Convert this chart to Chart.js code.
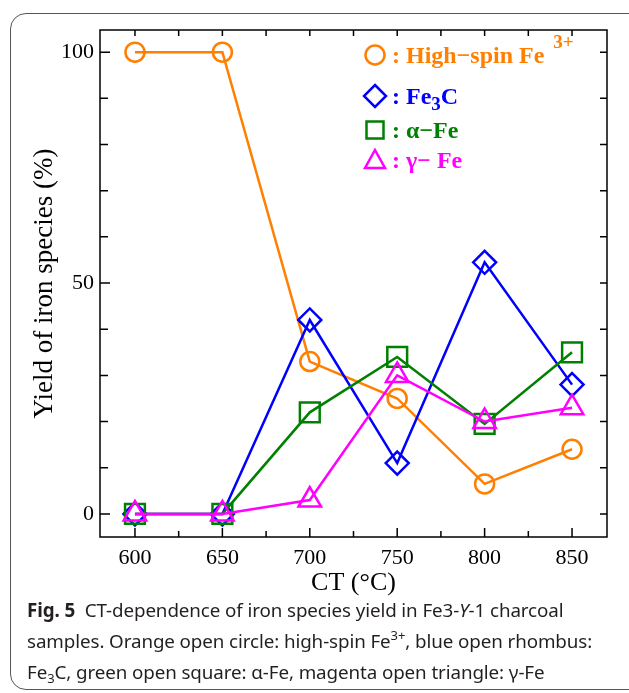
<!DOCTYPE html>
<html lang="en">
<head>
  <meta charset="UTF-8">
  <title>CT-dependence of iron species yield</title>
  <script src="https://cdn.jsdelivr.net/npm/chart.js"></script>
  <style>
    html, body { margin: 0; padding: 0; background: #fff; }
    body { width: 629px; height: 693px; position: relative; overflow: hidden; }
    .moldura {
      position: absolute; left: 10px; top: 13px; width: 660px; height: 677px;
      border: 1.5px solid #555; border-radius: 16px; box-sizing: border-box;
    }
    #grafico { position: absolute; left: 0; top: 0; }
    .legenda {
      position: absolute; left: 27px; top: 595px;
      font-family: "Noto Sans", sans-serif; font-size: 18.8px; line-height: 31px; color: #231f20;
      white-space: nowrap; letter-spacing: -0.1px;
    }
    .legenda sup, .legenda sub { font-size: 13px; line-height: 0; position: relative; vertical-align: baseline; }
    .legenda sup { top: -8px; }
    .legenda sub { top: 4px; }
  </style>
</head>
<body>
  <div class="moldura"></div>
  <canvas id="grafico" width="629" height="600"></canvas>
  <div class="legenda">
    <div><b>Fig. 5</b>&nbsp; CT-dependence of iron species yield in Fe3-<i>Y</i>-1 charcoal</div>
    <div>samples. Orange open circle: high-spin Fe<sup>3+</sup>, blue open rhombus:</div>
    <div>Fe<sub>3</sub>C, green open square: α-Fe, magenta open triangle: γ-Fe</div>
  </div>

  <script>
    // dados
    const temperaturas = [600, 650, 700, 750, 800, 850];
    const highSpinFe3 = [100, 100, 33, 25, 6.5, 14];
    const fe3c = [0, 0, 42, 11, 54.5, 28];
    const alphaFe = [0, 0, 22, 34, 19.5, 35];
    const gammaFe = [0, 0, 3, 30, 20, 23];
    const xTicks = [600, 650, 700, 750, 800, 850];
    const yTicks = [0, 50, 100];

    const fonteSerif = "'Liberation Serif', 'Times New Roman', serif";

    function pontos(valores) {
      return temperaturas.map((t, i) => ({ x: t, y: valores[i] }));
    }

    function serie(nome, valores, cor, estilo, raio, ordem) {
      return {
        label: nome,
        data: pontos(valores),
        borderColor: cor,
        borderWidth: 2.5,
        tension: 0,
        pointStyle: estilo,
        pointRadius: raio,
        pointBorderColor: cor,
        pointBorderWidth: 2.5,
        pointBackgroundColor: 'rgba(0,0,0,0)',
        order: ordem,
        clip: false
      };
    }

    // caixa, ticks para dentro e legenda desenhados aqui
    const molduraPlugin = {
      id: 'moldura',
      beforeDatasetsDraw(chart) {
        const { ctx, chartArea: a, scales } = chart;
        ctx.save();
        ctx.strokeStyle = '#000';
        ctx.lineWidth = 1.5;
        ctx.strokeRect(a.left, a.top, a.right - a.left, a.bottom - a.top);
        ctx.beginPath();
        for (let v = 600; v <= 850; v += 25) {
          const px = scales.x.getPixelForValue(v);
          const len = v % 50 === 0 ? 9 : 6;
          ctx.moveTo(px, a.bottom); ctx.lineTo(px, a.bottom - len);
          ctx.moveTo(px, a.top); ctx.lineTo(px, a.top + 6);
        }
        for (let v = 0; v <= 100; v += 10) {
          const py = scales.y.getPixelForValue(v);
          const len = v % 50 === 0 ? 10 : 8;
          ctx.moveTo(a.left, py); ctx.lineTo(a.left + len, py);
          ctx.moveTo(a.right, py); ctx.lineTo(a.right - 7, py);
        }
        ctx.stroke();
        ctx.restore();
      },
      afterDraw(chart) {
        const { ctx, chartArea: a } = chart;
        const mx = a.right - 232;
        const tx = mx + 17;
        ctx.save();
        ctx.lineWidth = 2.5;
        ctx.textBaseline = 'alphabetic';

        function escrever(x, y, partes, cor) {
          ctx.fillStyle = cor;
          partes.forEach(p => {
            ctx.font = p.f;
            ctx.fillText(p.t, x, y + (p.dy || 0));
            x += ctx.measureText(p.t).width + (p.gap || 0);
          });
        }
        const fb = 'bold 24px ' + fonteSerif;
        const fp = 'bold 19px ' + fonteSerif;

        // circulo
        let y = a.top + 25;
        ctx.strokeStyle = '#ff7f00';
        ctx.beginPath(); ctx.arc(mx, y, 9.5, 0, Math.PI * 2); ctx.stroke();
        escrever(tx, y + 8, [{ t: ': High\u2212spin Fe ', f: fb, gap: 3 }, { t: '3+', f: fp, dy: -15 }], '#ff7f00');

        // losango
        y = a.top + 66;
        ctx.strokeStyle = '#0000ff';
        ctx.beginPath();
        ctx.moveTo(mx, y - 11); ctx.lineTo(mx + 11, y); ctx.lineTo(mx, y + 11); ctx.lineTo(mx - 11, y);
        ctx.closePath(); ctx.stroke();
        escrever(tx, y + 8, [{ t: ': Fe', f: fb }, { t: '3', f: fp, dy: 6 }, { t: 'C', f: fb }], '#0000ff');

        // quadrado
        y = a.top + 100;
        ctx.strokeStyle = '#008000';
        ctx.strokeRect(mx - 8.5, y - 8.5, 17, 17);
        escrever(tx, y + 8, [{ t: ': \u03b1\u2212Fe', f: fb }], '#008000');

        // triangulo
        y = a.top + 130;
        ctx.strokeStyle = '#ff00ff';
        ctx.beginPath();
        ctx.moveTo(mx, y - 10); ctx.lineTo(mx + 10, y + 8); ctx.lineTo(mx - 10, y + 8);
        ctx.closePath(); ctx.stroke();
        escrever(tx, y + 8, [{ t: ': \u03b3\u2212 Fe', f: fb }], '#ff00ff');
        ctx.restore();
      }
    };

    const ctx = document.getElementById('grafico').getContext('2d');
    new Chart(ctx, {
      type: 'line',
      data: {
        datasets: [
          serie('High-spin Fe3+', highSpinFe3, '#ff7f00', 'circle', 9.5, 4),
          serie('Fe3C', fe3c, '#0000ff', 'rectRot', 11.5, 3),
          serie('α-Fe', alphaFe, '#008000', 'rect', 14, 2),
          serie('γ-Fe', gammaFe, '#ff00ff', 'triangle', 13, 1)
        ]
      },
      options: {
        responsive: false,
        animation: false,
        layout: { padding: { left: 0, right: 22, top: 30, bottom: 0 } },
        plugins: { legend: { display: false }, tooltip: { enabled: false } },
        scales: {
          x: {
            type: 'linear',
            min: 580,
            max: 870,
            afterBuildTicks: s => { s.ticks = xTicks.map(v => ({ value: v })); },
            afterFit: s => { s.height = 63; },
            grid: { display: false, drawTicks: false },
            border: { display: false },
            ticks: { color: '#000', font: { family: fonteSerif, size: 22 }, padding: 8, maxRotation: 0 },
            title: {
              display: true, text: 'CT (°C)', color: '#000',
              font: { family: fonteSerif, size: 26 }, padding: { top: 0, bottom: 1 }
            }
          },
          y: {
            min: -5,
            max: 104.8,
            afterBuildTicks: s => { s.ticks = yTicks.map(v => ({ value: v })); },
            afterFit: s => { s.width = 100; },
            grid: { display: false, drawTicks: false },
            border: { display: false },
            ticks: { color: '#000', font: { family: fonteSerif, size: 22 }, padding: 6 },
            title: {
              display: true, text: 'Yield of iron species (%)', color: '#000',
              font: { family: fonteSerif, size: 27 }, padding: { top: 29, bottom: 0 }
            }
          }
        }
      },
      plugins: [molduraPlugin]
    });
  </script>
</body>
</html>
